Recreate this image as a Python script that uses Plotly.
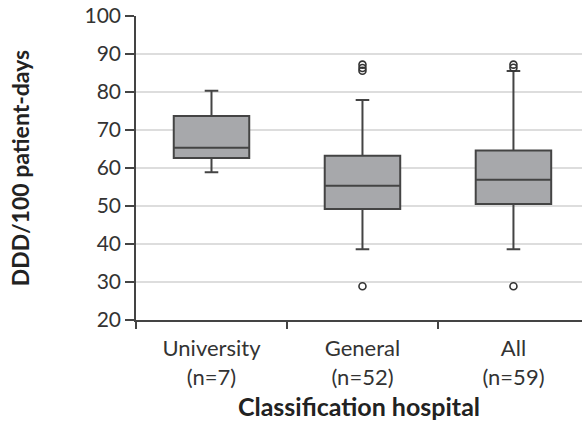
import plotly.graph_objects as go

categories = ["University<br>(n=7)", "General<br>(n=52)", "All<br>(n=59)"]
lower_whisker = [58.9, 38.6, 38.6]
q1_vals = [62.6, 49.2, 50.5]
medians = [65.3, 55.3, 56.9]
q3_vals = [73.7, 63.2, 64.6]
upper_whisker = [80.3, 77.9, 85.5]
outlier_cat = ["General<br>(n=52)"] * 4 + ["All<br>(n=59)"] * 3
outlier_vals = [28.9, 85.6, 86.3, 87.2, 28.9, 86.4, 87.2]

y_ticks = [20, 30, 40, 50, 60, 70, 80, 90, 100]

fig = go.Figure()
fig.add_trace(go.Box(
    x=categories,
    q1=q1_vals, median=medians, q3=q3_vals,
    lowerfence=lower_whisker, upperfence=upper_whisker,
    fillcolor="#a7a8ab",
    line=dict(color="#444444", width=2),
    width=0.5,
    whiskerwidth=0.18,
    boxpoints=False,
    showlegend=False,
))
fig.add_trace(go.Scatter(
    x=outlier_cat, y=outlier_vals, mode="markers",
    marker=dict(symbol="circle-open", size=7, color="#333333", line=dict(width=1.6)),
    showlegend=False,
))

fig.update_layout(
    width=582, height=437,
    margin=dict(l=136, r=0, t=16, b=117),
    paper_bgcolor="white", plot_bgcolor="white",
    font=dict(family="Lato, Open Sans, sans-serif", color="#333333"),
)
fig.update_xaxes(
    type="category",
    categoryorder="array", categoryarray=categories,
    range=[-0.5, 2.454],
    tickson="boundaries",
    ticks="outside", ticklen=7, tickwidth=1.5, tickcolor="#444444",
    showline=True, linecolor="#444444", linewidth=1.5,
    showgrid=False,
    tickfont=dict(size=22, color="#333333"),
    ticklabelstandoff=8,
    automargin=False,
    title=dict(text="<b>Classification hospital</b>", font=dict(size=25, color="#222222"), standoff=10),
)
fig.update_yaxes(
    range=[20, 100],
    tickvals=y_ticks,
    ticks="outside", ticklen=9, tickwidth=1.5, tickcolor="#444444",
    showline=True, linecolor="#444444", linewidth=1.5,
    showgrid=True, gridcolor="#dddddd", gridwidth=1.5,
    tickfont=dict(size=21, color="#333333"),
    automargin=False,
    title=dict(text="<b>DDD/100 patient-days</b>", font=dict(size=23, color="#222222"), standoff=48),
    zeroline=False,
)

fig.write_html("out.html", config={"displayModeBar": False},
               post_script="document.body.style.margin='0';")
